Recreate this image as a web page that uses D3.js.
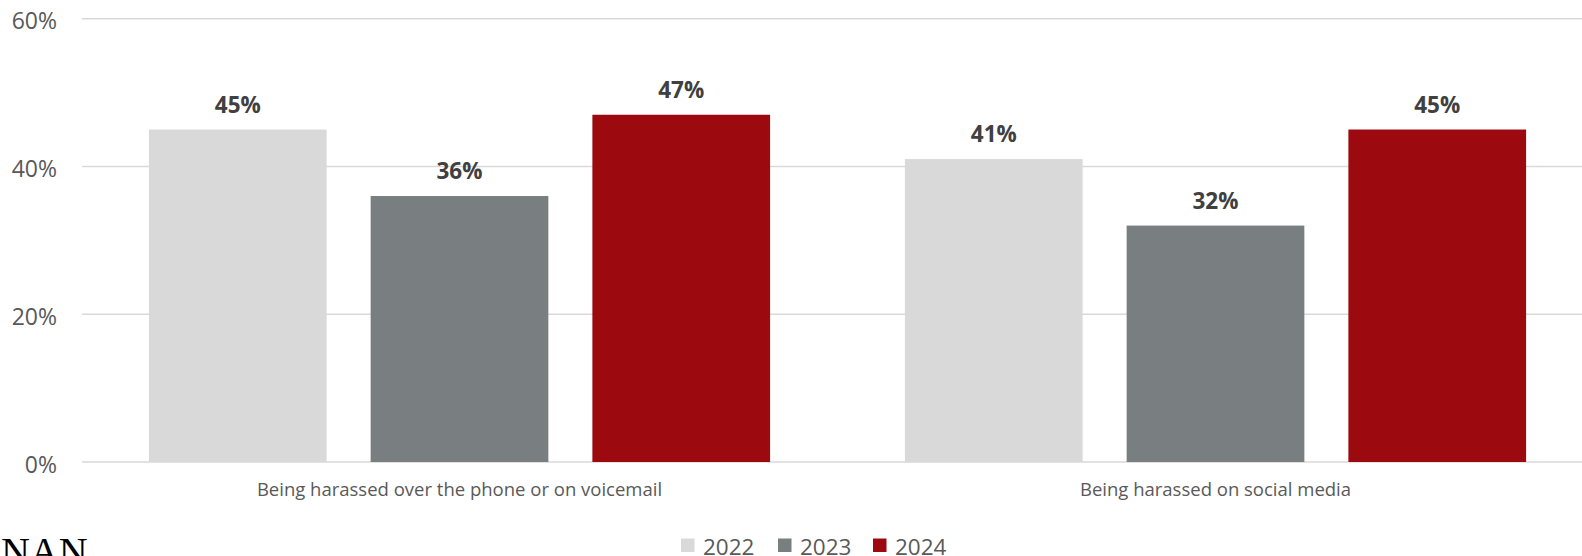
<!DOCTYPE html>
<html><head><meta charset="utf-8">
<script src="https://cdn.jsdelivr.net/npm/d3@7"></script>
<style>
html,body{margin:0;padding:0;background:#fff;}
svg{display:block;}
</style></head>
<body><svg id="chart" width="1582" height="556"></svg>
<script>
const categories = ["Being harassed over the phone or on voicemail", "Being harassed on social media"];
const seriesNames = ["2022", "2023", "2024"];
const values2022 = [45, 41];
const values2023 = [36, 32];
const values2024 = [47, 45];
const yTicks = [0, 20, 40, 60];
const colors = ["#d9d9d9", "#797e80", "#9c0a10"];

const seriesValues = [values2022, values2023, values2024];
const W = 1582, H = 556;
const svg = d3.select("#chart");
const font = "'Open Sans', sans-serif";

const x0 = d3.scaleBand().domain(categories).range([81.5, 1593.5]).paddingInner(0).paddingOuter(0);
const x1 = d3.scaleBand().domain(seriesNames).range([0, x0.bandwidth()]).paddingInner(0.1985).paddingOuter(0.304);
const y = d3.scaleLinear().domain([0, 60]).range([462, 18.7]);

// gridlines
svg.append("g").selectAll("line").data(yTicks).join("line")
  .attr("x1", 82).attr("x2", W)
  .attr("y1", d => y(d)).attr("y2", d => y(d))
  .attr("stroke", "#d9d9d9").attr("stroke-width", 1.5);

// y tick labels
svg.append("g").selectAll("text").data(yTicks).join("text")
  .attr("x", 57).attr("y", d => y(d) + 10.5)
  .attr("text-anchor", "end")
  .attr("font-family", font).attr("font-size", 23).attr("fill", "#595959")
  .text(d => d + "%");

// bars
const rows = [];
categories.forEach((c, ci) => seriesNames.forEach((s, si) => rows.push({c, s, si, v: seriesValues[si][ci]})));

svg.append("g").selectAll("rect").data(rows).join("rect")
  .attr("x", d => x0(d.c) + x1(d.s))
  .attr("width", x1.bandwidth())
  .attr("y", d => y(d.v))
  .attr("height", d => y(0) - y(d.v))
  .attr("fill", d => colors[d.si]);

// value labels
svg.append("g").selectAll("text").data(rows).join("text")
  .attr("x", d => x0(d.c) + x1(d.s) + x1.bandwidth() / 2)
  .attr("y", d => y(d.v) - 17)
  .attr("text-anchor", "middle")
  .attr("font-family", font).attr("font-weight", 700).attr("font-size", 22.5).attr("fill", "#404040")
  .text(d => d.v + "%");

// category labels
svg.append("g").selectAll("text").data(categories).join("text")
  .attr("x", d => x0(d) + x0.bandwidth() / 2)
  .attr("y", 496)
  .attr("text-anchor", "middle")
  .attr("font-family", font).attr("font-size", 18.5).attr("fill", "#595959")
  .text(d => d);

// legend
const legendX = [681, 778, 873];
const lg = svg.append("g").selectAll("g").data(seriesNames).join("g")
  .attr("transform", (d, i) => `translate(${legendX[i]},0)`);
lg.append("rect").attr("x", 0).attr("y", 538.5).attr("width", 13.5).attr("height", 13.5)
  .attr("fill", (d, i) => colors[i]);
lg.append("text").attr("x", 22).attr("y", 554.5)
  .attr("font-family", font).attr("font-size", 22.5).attr("fill", "#595959")
  .text(d => d);

// NAN
svg.append("text").attr("x", 1).attr("y", 564.5)
  .attr("font-family", "'Liberation Serif', 'Times New Roman', serif")
  .attr("font-size", 40).attr("fill", "#000")
  .text("NAN");
</script>
</body></html>
